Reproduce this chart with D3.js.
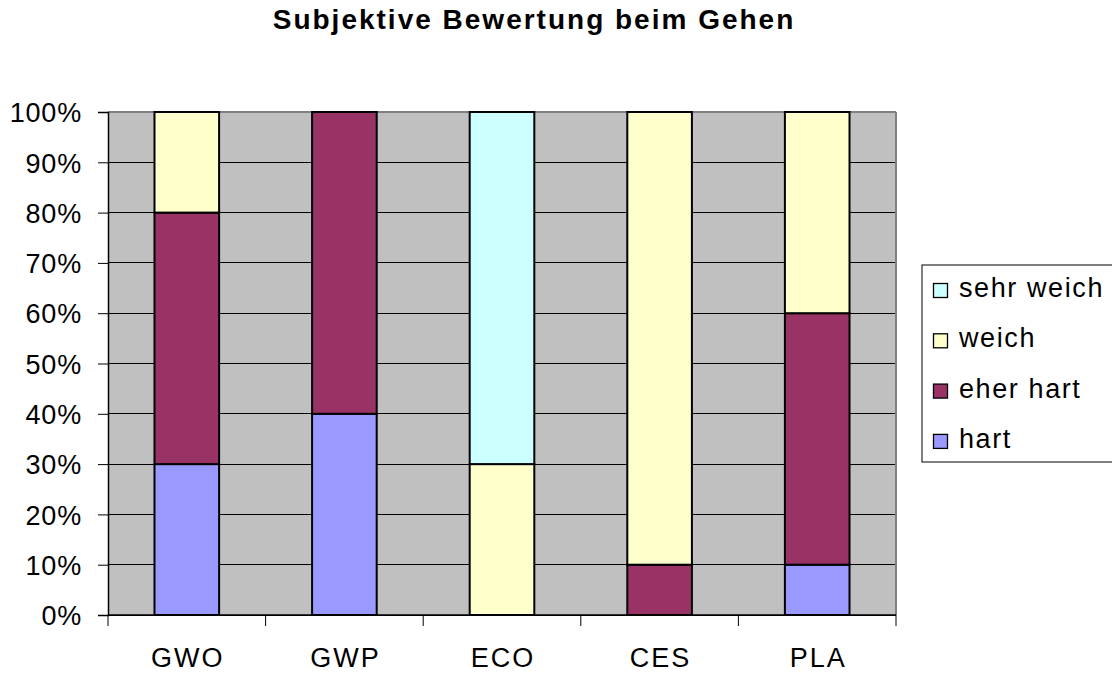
<!DOCTYPE html>
<html><head><meta charset="utf-8">
<script src="https://cdn.jsdelivr.net/npm/d3@7"></script>
<style>body{margin:0;background:#fff}svg{display:block;font-family:"Liberation Sans",Arial,sans-serif}</style>
</head><body><svg id="c" width="1112" height="675"></svg>
<script>
const categories = ["GWO","GWP","ECO","CES","PLA"];
const seriesNames = ["hart","eher hart","weich","sehr weich"];
const hart      = [30, 40, 0, 0, 10];
const eherHart  = [50, 60, 0, 10, 50];
const weich     = [20, 0, 30, 90, 40];
const sehrWeich = [0, 0, 70, 0, 0];
const colors = ["#9999FF","#993366","#FFFFCC","#CCFFFF"];
const yTicks = [0,10,20,30,40,50,60,70,80,90,100];
const title = "Subjektive Bewertung beim Gehen";

const svg = d3.select("#c");
const L=108, R=896, T=112, B=615;
const FS = 27;
const x = d3.scaleBand().domain(categories).range([L,R]).paddingInner(0.59).paddingOuter(0.295);
const xOuter = d3.scaleBand().domain(categories).range([L,R]);
const y = d3.scaleLinear().domain([0,100]).range([B,T]);

svg.append("rect").attr("x",L).attr("y",T).attr("width",R-L).attr("height",B-T).attr("fill","#C0C0C0");
svg.append("g").selectAll("line").data(yTicks).join("line")
  .attr("x1",L).attr("x2",R).attr("y1",d=>y(d)).attr("y2",d=>y(d))
  .attr("stroke","#000").attr("stroke-width",1).attr("shape-rendering","crispEdges");
svg.append("line").attr("x1",L).attr("x2",R).attr("y1",T).attr("y2",T).attr("stroke","#808080").attr("stroke-width",2);
svg.append("line").attr("x1",R).attr("x2",R).attr("y1",T).attr("y2",B).attr("stroke","#808080").attr("stroke-width",2);

const data = categories.map((c,i)=>({cat:c,"hart":hart[i],"eher hart":eherHart[i],"weich":weich[i],"sehr weich":sehrWeich[i]}));
const stacked = d3.stack().keys(seriesNames)(data);
svg.append("g").selectAll("g").data(stacked).join("g")
  .attr("fill",(d,i)=>colors[i])
  .selectAll("rect").data(d=>d.filter(p=>p[1]-p[0]>0)).join("rect")
  .attr("x",d=>x(d.data.cat)).attr("width",x.bandwidth())
  .attr("y",d=>y(d[1])).attr("height",d=>y(d[0])-y(d[1]))
  .attr("stroke","#000").attr("stroke-width",2);

const yAxis = d3.axisLeft(y).tickValues(yTicks).tickFormat(d=>d+"%").tickSize(10).tickPadding(16);
const gy = svg.append("g").attr("transform",`translate(${L},0)`).call(yAxis);
gy.attr("font-size",FS).attr("font-family",null);
gy.select(".domain").attr("stroke","#000").attr("stroke-width",1.5);
gy.selectAll(".tick line").attr("stroke","#000");
gy.selectAll("text").attr("fill","#000").attr("dy","0.36em").style("letter-spacing","0.8px");

const gx = svg.append("g").attr("transform",`translate(0,${B})`);
gx.append("line").attr("x1",L).attr("x2",R).attr("stroke","#000").attr("stroke-width",1.5);
const bounds = categories.map(c=>xOuter(c)).concat([R]);
gx.selectAll("line.t").data(bounds).join("line").attr("class","t")
  .attr("x1",d=>d).attr("x2",d=>d).attr("y1",0).attr("y2",11).attr("stroke","#000");
gx.selectAll("text").data(categories).join("text")
  .attr("x",d=>xOuter(d)+xOuter.bandwidth()/2+1).attr("y",52)
  .attr("text-anchor","middle").attr("font-size",FS).style("letter-spacing","2px").text(d=>d);

svg.append("text").attr("x",534).attr("y",29).attr("text-anchor","middle")
  .attr("font-size",28).attr("font-weight","bold").style("letter-spacing","2px").text(title);

const lg = svg.append("g");
lg.append("rect").attr("x",922).attr("y",265).attr("width",200).attr("height",197)
  .attr("fill","#fff").attr("stroke","#000").attr("stroke-width",1);
const legendItems = seriesNames.map((n,i)=>({n,c:colors[i]})).reverse();
const li = lg.selectAll("g").data(legendItems).join("g")
  .attr("transform",(d,i)=>`translate(0,${297+i*50.3})`);
li.append("rect").attr("x",933.5).attr("y",-13.5).attr("width",14).attr("height",14)
  .attr("fill",d=>d.c).attr("stroke","#000").attr("stroke-width",1.3);
li.append("text").attr("x",959).attr("y",0).attr("font-size",FS).style("letter-spacing","1.6px").text(d=>d.n);
</script></body></html>
